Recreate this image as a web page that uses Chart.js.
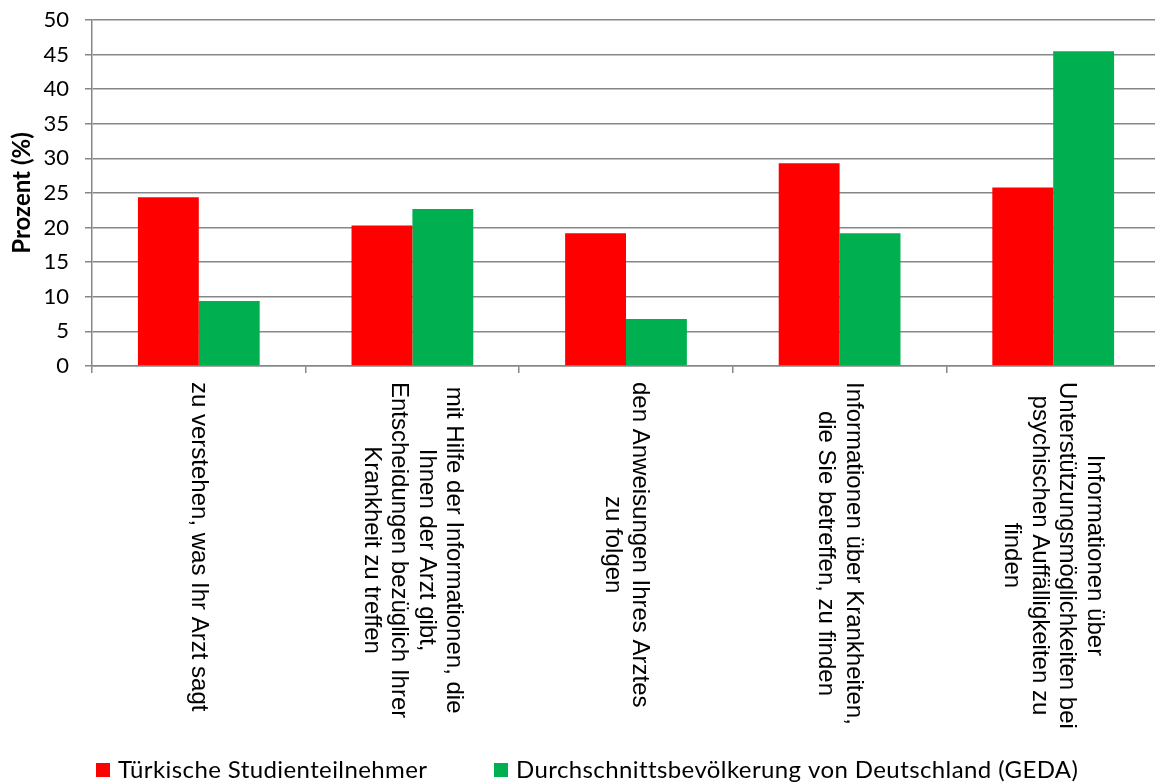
<!DOCTYPE html>
<html lang="de">
<head>
<meta charset="utf-8">
<title>Gesundheitskompetenz</title>
<script src="https://cdn.jsdelivr.net/npm/chart.js@4/dist/chart.umd.min.js"></script>
<style>
  html, body { margin: 0; padding: 0; background: #fff; overflow: hidden; }
  #wrap { position: relative; width: 1160px; height: 783px; }
</style>
</head>
<body>
<div id="wrap"><canvas id="chart"></canvas></div>
<script>
// Categories (each entry holds the wrapped lines of one axis label)
const categories = [
  ['zu verstehen, was Ihr Arzt sagt'],
  ['mit Hilfe der Informationen, die', 'Ihnen der Arzt gibt,', 'Entscheidungen bezüglich Ihrer', 'Krankheit zu treffen'],
  ['den Anweisungen Ihres Arztes', 'zu folgen'],
  ['Informationen über Krankheiten,', 'die Sie betreffen, zu finden'],
  ['Informationen über', 'Unterstützungsmöglichkeiten bei', 'psychischen Auffälligkeiten zu', 'finden']
];

// Series values in percent
const seriesNames = ['Türkische Studienteilnehmer', 'Durchschnittsbevölkerung von Deutschland (GEDA)'];
const tuerkischeTeilnehmer = [24.4, 20.3, 19.2, 29.3, 25.8];
const gedaBevoelkerung = [9.4, 22.7, 6.8, 19.2, 45.5];

// Value axis
const yMin = 0;
const yMax = 50;
const yStep = 5;
const yTitle = 'Prozent (%)';

const GRID = '#878787';

// Category labels drawn rotated clockwise below the axis
const verticalLabels = {
  id: 'verticalLabels',
  afterDraw(chart) {
    const ctx = chart.ctx;
    const xs = chart.scales.x;
    const lh = 27.5;
    ctx.save();
    ctx.font = '24px "Liberation Sans", Arial, sans-serif';
    ctx.fillStyle = '#000';
    ctx.textAlign = 'center';
    ctx.textBaseline = 'middle';
    chart.data.labels.forEach((lines, i) => {
      const cx = xs.getPixelForValue(i);
      const maxW = Math.max(...lines.map(l => ctx.measureText(l).width));
      const n = lines.length;
      ctx.save();
      ctx.translate(cx, xs.top + 16);
      ctx.rotate(Math.PI / 2);
      lines.forEach((line, k) => {
        ctx.fillText(line, maxW / 2, (k - (n - 1) / 2) * lh);
      });
      ctx.restore();
    });
    ctx.restore();
  }
};

// Legend row along the bottom edge
const bottomLegend = {
  id: 'bottomLegend',
  afterDraw(chart) {
    const ctx = chart.ctx;
    const starts = [96, 494];
    const y = 770;
    ctx.save();
    ctx.font = '24px Lato, "Open Sans", sans-serif';
    ctx.letterSpacing = '0.4px';
    ctx.textBaseline = 'middle';
    ctx.textAlign = 'left';
    chart.data.datasets.forEach((ds, i) => {
      const x = starts[i];
      ctx.fillStyle = ds.backgroundColor;
      ctx.fillRect(x, y - 7, 14, 14);
      ctx.fillStyle = '#000';
      ctx.fillText(ds.label, x + 22, y);
    });
    ctx.restore();
  }
};

new Chart(document.getElementById('chart'), {
  type: 'bar',
  data: {
    labels: categories,
    datasets: [
      {
        label: seriesNames[0],
        data: tuerkischeTeilnehmer,
        backgroundColor: '#FF0000',
        categoryPercentage: 0.57,
        barPercentage: 1.0
      },
      {
        label: seriesNames[1],
        data: gedaBevoelkerung,
        backgroundColor: '#00B050',
        categoryPercentage: 0.57,
        barPercentage: 1.0
      }
    ]
  },
  options: {
    responsive: true,
    maintainAspectRatio: false,
    animation: false,
    layout: { padding: { top: 20, left: 0, right: 0, bottom: 0 } },
    plugins: {
      legend: { display: false },
      tooltip: { enabled: false }
    },
    scales: {
      x: {
        offset: true,
        grid: {
          display: true,
          offset: true,
          drawOnChartArea: false,
          drawTicks: true,
          tickLength: 7,
          color: GRID,
          lineWidth: 1.5
        },
        border: { display: true, color: GRID, width: 1.5 },
        ticks: { display: false },
        afterFit(scale) {
          scale.height = 417;
          scale.paddingLeft = 0;
          scale.paddingRight = 0;
        }
      },
      y: {
        min: yMin,
        max: yMax,
        ticks: {
          stepSize: yStep,
          padding: 16,
          color: '#000',
          font: { family: 'Lato, "Open Sans", sans-serif', size: 22 }
        },
        grid: {
          color: GRID,
          lineWidth: 1.5,
          drawTicks: true,
          tickLength: 7
        },
        border: { display: true, color: GRID, width: 1.5 },
        title: {
          display: true,
          text: yTitle,
          color: '#000',
          padding: { top: 8, bottom: 0 },
          font: { family: 'Lato, "Open Sans", sans-serif', size: 24, weight: 'bold' }
        },
        afterFit(scale) {
          scale.width = 92;
          scale.paddingTop = 0;
          scale.paddingBottom = 0;
        }
      }
    }
  },
  plugins: [verticalLabels, bottomLegend]
});
</script>
</body>
</html>
